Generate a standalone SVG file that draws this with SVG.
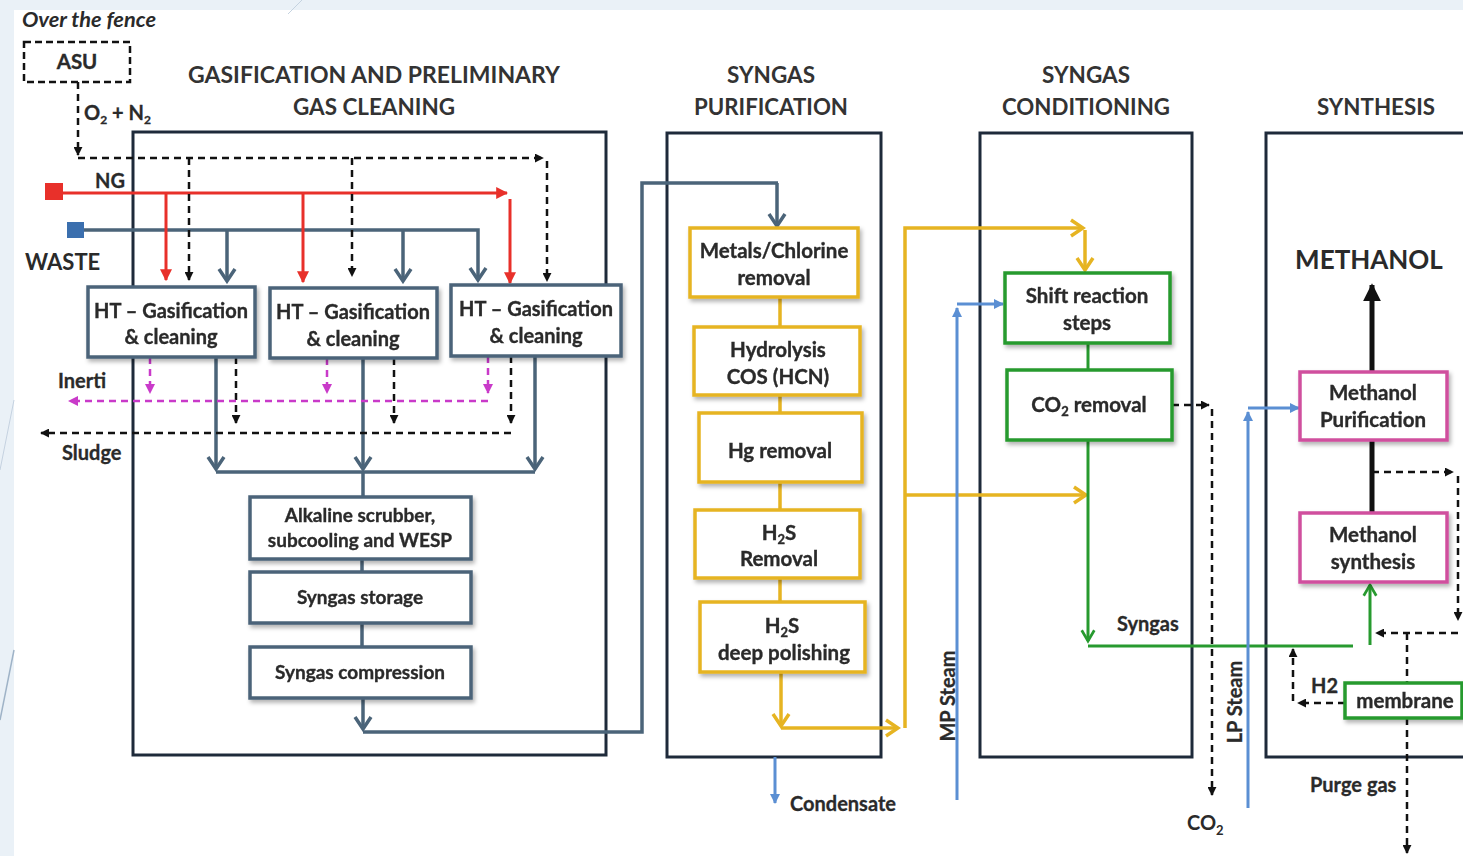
<svg xmlns="http://www.w3.org/2000/svg" width="1463" height="856" viewBox="0 0 1463 856">
<style>
text{font-family:Lato,"Liberation Sans",sans-serif;font-weight:700;fill:#2a2a2a}
.h{font-size:22px;fill:#333;text-anchor:middle}
.t{font-size:20.5px;text-anchor:middle;stroke:#2a2a2a;stroke-width:0.35}
.t20{font-size:20px}
.t19{font-size:19px}
.l{font-size:20px;stroke:#2a2a2a;stroke-width:0.3}
.sec{fill:#fff;stroke:#1e2a3a;stroke-width:3}
.bs{fill:#fff;stroke:#4b6479;stroke-width:3.5}
.bg{fill:#fff;stroke:#e6b422;stroke-width:3.5}
.bgr{fill:#fff;stroke:#279a2f;stroke-width:3.5}
.bm{fill:#fff;stroke:#d0509e;stroke-width:3.5}
.sl{fill:none;stroke:#4b6479;stroke-width:3.5}
.rd{fill:none;stroke:#e8302a;stroke-width:3}
.dk{fill:none;stroke:#111;stroke-width:2.5;stroke-dasharray:7,5}
.mg{fill:none;stroke:#c93ac9;stroke-width:2.5;stroke-dasharray:7,5}
.gd{fill:none;stroke:#e6b422;stroke-width:3.5}
.gr{fill:none;stroke:#279a2f;stroke-width:3}
.bl{fill:none;stroke:#5b8fd3;stroke-width:3}
</style>
<defs>
<filter id="sh" x="-10%" y="-10%" width="130%" height="140%"><feDropShadow dx="2" dy="3" stdDeviation="2" flood-color="#000" flood-opacity="0.3"/></filter>
<marker id="chS" viewBox="0 0 20 20" refX="17" refY="10" markerWidth="20" markerHeight="20" markerUnits="userSpaceOnUse" orient="auto"><path d="M5,2 L17,10 L5,18" fill="none" stroke="#4b6479" stroke-width="3.5"/></marker>
<marker id="chG" viewBox="0 0 20 20" refX="17" refY="10" markerWidth="20" markerHeight="20" markerUnits="userSpaceOnUse" orient="auto"><path d="M5,2 L17,10 L5,18" fill="none" stroke="#e6b422" stroke-width="3.5"/></marker>
<marker id="chGr" viewBox="0 0 20 20" refX="17" refY="10" markerWidth="18" markerHeight="18" markerUnits="userSpaceOnUse" orient="auto"><path d="M5,3 L17,10 L5,17" fill="none" stroke="#279a2f" stroke-width="3"/></marker>
<marker id="tK" viewBox="0 0 10 10" refX="9" refY="5" markerWidth="9" markerHeight="9" markerUnits="userSpaceOnUse" orient="auto"><path d="M0,0 L10,5 L0,10 z" fill="#111"/></marker>
<marker id="tR" viewBox="0 0 10 10" refX="9" refY="5" markerWidth="12" markerHeight="12" markerUnits="userSpaceOnUse" orient="auto"><path d="M0,0 L10,5 L0,10 z" fill="#e8302a"/></marker>
<marker id="tM" viewBox="0 0 10 10" refX="9" refY="5" markerWidth="10" markerHeight="10" markerUnits="userSpaceOnUse" orient="auto"><path d="M0,0 L10,5 L0,10 z" fill="#c93ac9"/></marker>
<marker id="tB" viewBox="0 0 10 10" refX="9" refY="5" markerWidth="10" markerHeight="10" markerUnits="userSpaceOnUse" orient="auto"><path d="M0,0 L10,5 L0,10 z" fill="#5b8fd3"/></marker>
<marker id="tBig" viewBox="0 0 10 10" refX="9" refY="5" markerWidth="18" markerHeight="22" markerUnits="userSpaceOnUse" orient="auto"><path d="M0,0 L10,5 L0,10 z" fill="#111"/></marker>
</defs>

<rect x="0" y="0" width="1463" height="856" fill="#eaf1f7"/>
<rect x="14" y="10" width="1449" height="846" fill="#fff"/>
<line x1="288" y1="14" x2="302" y2="0" stroke="#c5d3e0" stroke-width="1"/>
<line x1="0" y1="720" x2="14" y2="650" stroke="#9fb3c7" stroke-width="1.5"/>
<line x1="0" y1="470" x2="14" y2="400" stroke="#c5d3e0" stroke-width="1"/>

<!-- section containers -->
<g id="sec-gasification"><rect class="sec" x="133" y="132" width="473" height="623"/>
<text class="h" x="374" y="83" textLength="372" lengthAdjust="spacingAndGlyphs">GASIFICATION AND PRELIMINARY</text>
<text class="h" x="374" y="115" textLength="162" lengthAdjust="spacingAndGlyphs">GAS CLEANING</text></g>
<g id="sec-purification"><rect class="sec" x="667" y="133" width="214" height="624"/>
<text class="h" x="771" y="83" textLength="88" lengthAdjust="spacingAndGlyphs">SYNGAS</text>
<text class="h" x="771" y="115" textLength="154" lengthAdjust="spacingAndGlyphs">PURIFICATION</text></g>
<g id="sec-conditioning"><rect class="sec" x="980" y="133" width="212" height="624"/>
<text class="h" x="1086" y="83" textLength="88" lengthAdjust="spacingAndGlyphs">SYNGAS</text>
<text class="h" x="1086" y="115" textLength="168" lengthAdjust="spacingAndGlyphs">CONDITIONING</text></g>
<g id="sec-synthesis"><rect class="sec" x="1266" y="133" width="220" height="624"/>
<text class="h" x="1376" y="115" textLength="118" lengthAdjust="spacingAndGlyphs">SYNTHESIS</text></g>

<!-- connectors -->
<g id="connectors">
<path class="sl" d="M84,230 H478 V280" marker-end="url(#chS)"/>
<path class="sl" d="M227,230 V281" marker-end="url(#chS)"/>
<path class="sl" d="M403,230 V281" marker-end="url(#chS)"/>
<path class="sl" d="M216,357 V469" marker-end="url(#chS)"/>
<path class="sl" d="M363,358 V469" marker-end="url(#chS)"/>
<path class="sl" d="M535,356 V469" marker-end="url(#chS)"/>
<path class="sl" d="M216,472 H535 M363,472 V497 M362,559 V572 M362,623 V647"/>
<path class="sl" d="M363,698 V729" marker-end="url(#chS)"/>
<path class="sl" d="M363,732 H642 V183 H778"/>
<path class="sl" d="M777,183 V226" marker-end="url(#chS)"/>

<path class="rd" d="M63,193 H507" marker-end="url(#tR)"/>
<path class="rd" d="M510,199 V283" marker-end="url(#tR)"/>
<path class="rd" d="M166,193 V280" marker-end="url(#tR)"/>
<path class="rd" d="M303,193 V282" marker-end="url(#tR)"/>

<path class="dk" d="M78,82 V155" marker-end="url(#tK)"/>
<path class="dk" d="M78,158 H543" marker-end="url(#tK)"/>
<path class="dk" d="M547,161 V281" marker-end="url(#tK)"/>
<path class="dk" d="M189,158 V280" marker-end="url(#tK)"/>
<path class="dk" d="M352,158 V276" marker-end="url(#tK)"/>
<path class="dk" d="M236,357 V423" marker-end="url(#tK)"/>
<path class="dk" d="M394,358 V423" marker-end="url(#tK)"/>
<path class="dk" d="M511,356 V423" marker-end="url(#tK)"/>
<path class="dk" d="M511,433 H41" marker-end="url(#tK)"/>

<path class="mg" d="M150,357 V393" marker-end="url(#tM)"/>
<path class="mg" d="M327,358 V393" marker-end="url(#tM)"/>
<path class="mg" d="M488,356 V393" marker-end="url(#tM)"/>
<path class="mg" d="M488,401 H69" marker-end="url(#tM)"/>

<path class="gd" d="M780,297 V327 M780,395 V413 M780,482 V510 M780,578 V602"/>
<path class="gd" d="M781,672 V726" marker-end="url(#chG)"/>
<path class="gd" d="M781,728 H898" marker-end="url(#chG)"/>
<path class="gd" d="M905,728 V228 H1083" marker-end="url(#chG)"/>
<path class="gd" d="M1085,230 V270" marker-end="url(#chG)"/>
<path class="gd" d="M905,495 H1086" marker-end="url(#chG)"/>

<path class="gr" d="M1088,343 V370"/>
<path class="gr" d="M1088,440 V641" marker-end="url(#chGr)"/>
<path class="gr" d="M1088,646 H1353"/>
<path class="gr" d="M1370,645 V585" marker-end="url(#chGr)"/>

<path class="bl" d="M957,800 V308" marker-end="url(#tB)"/>
<path class="bl" d="M957,304 H1003" marker-end="url(#tB)"/>
<path class="bl" d="M1248,808 V412" marker-end="url(#tB)"/>
<path class="bl" d="M1248,408 H1299" marker-end="url(#tB)"/>
<path class="bl" d="M775,757 V803" marker-end="url(#tB)"/>

<path class="dk" d="M1172,405 H1209" marker-end="url(#tK)"/>
<path class="dk" d="M1212,409 V795" marker-end="url(#tK)"/>
<path class="dk" d="M1372,472 H1453" marker-end="url(#tK)"/>
<path class="dk" d="M1458,476 V620" marker-end="url(#tK)"/>
<path class="dk" d="M1458,633 H1376" marker-end="url(#tK)"/>
<path class="dk" d="M1407,633 V682"/>
<path class="dk" d="M1407,718 V853" marker-end="url(#tK)"/>
<path class="dk" d="M1345,703 H1298" marker-end="url(#tK)"/>
<path class="dk" d="M1293,701 V649" marker-end="url(#tK)"/>

<path d="M1372,440 V512" stroke="#111" stroke-width="5" fill="none"/>
<path d="M1372,371 V285" stroke="#111" stroke-width="5" fill="none" marker-end="url(#tBig)"/>
</g>

<!-- nodes -->
<g id="asu"><rect x="24" y="42" width="106" height="40" fill="#fff" stroke="#111" stroke-width="2.5" stroke-dasharray="7,4"/>
<text class="t" x="77" y="69">ASU</text></g>
<g id="ng-source"><rect x="45" y="183" width="18" height="17" fill="#e8302a"/></g>
<g id="waste-source"><rect x="67" y="222" width="17" height="16" fill="#3b6fae"/></g>

<g id="ht1" filter="url(#sh)"><rect class="bs" x="88" y="287" width="167" height="70"/>
<text class="t t20" x="171" y="318">HT – Gasification</text><text class="t t20" x="171" y="344">&amp; cleaning</text></g>
<g id="ht2" filter="url(#sh)"><rect class="bs" x="270" y="288" width="167" height="70"/>
<text class="t t20" x="353" y="319">HT – Gasification</text><text class="t t20" x="353" y="346">&amp; cleaning</text></g>
<g id="ht3" filter="url(#sh)"><rect class="bs" x="451" y="285" width="170" height="71"/>
<text class="t t20" x="536" y="316">HT – Gasification</text><text class="t t20" x="536" y="343">&amp; cleaning</text></g>

<g id="alkaline" filter="url(#sh)"><rect class="bs" x="250" y="497" width="221" height="62"/>
<text class="t t19" x="360" y="522">Alkaline scrubber,</text><text class="t t19" x="360" y="547">subcooling and  WESP</text></g>
<g id="storage" filter="url(#sh)"><rect class="bs" x="250" y="572" width="221" height="51"/>
<text class="t t19" x="360" y="604">Syngas storage</text></g>
<g id="compression" filter="url(#sh)"><rect class="bs" x="250" y="647" width="221" height="51"/>
<text class="t t19" x="360" y="679">Syngas compression</text></g>

<g id="metals" filter="url(#sh)"><rect class="bg" x="690" y="228" width="168" height="69"/>
<text class="t" x="774" y="258">Metals/Chlorine</text><text class="t" x="774" y="285">removal</text></g>
<g id="hydrolysis" filter="url(#sh)"><rect class="bg" x="694" y="327" width="166" height="68"/>
<text class="t" x="778" y="357">Hydrolysis</text><text class="t" x="778" y="384">COS (HCN)</text></g>
<g id="hg" filter="url(#sh)"><rect class="bg" x="699" y="413" width="163" height="69"/>
<text class="t" x="780" y="458">Hg removal</text></g>
<g id="h2s-removal" filter="url(#sh)"><rect class="bg" x="695" y="510" width="165" height="68"/>
<text class="t" x="779" y="540">H<tspan font-size="13" dy="4">2</tspan><tspan dy="-4">S</tspan></text><text class="t" x="779" y="566">Removal</text></g>
<g id="h2s-polishing" filter="url(#sh)"><rect class="bg" x="700" y="602" width="165" height="70"/>
<text class="t" x="782" y="633">H<tspan font-size="13" dy="4">2</tspan><tspan dy="-4">S</tspan></text><text class="t" x="784" y="660">deep polishing</text></g>

<g id="shift" filter="url(#sh)"><rect class="bgr" x="1005" y="273" width="165" height="70"/>
<text class="t" x="1087" y="303">Shift reaction</text><text class="t" x="1087" y="330">steps</text></g>
<g id="co2-removal" filter="url(#sh)"><rect class="bgr" x="1007" y="370" width="165" height="70"/>
<text class="t" x="1089" y="412">CO<tspan font-size="13" dy="4">2</tspan><tspan dy="-4"> removal</tspan></text></g>

<g id="meoh-purification" filter="url(#sh)"><rect class="bm" x="1300" y="372" width="147" height="68"/>
<text class="t" x="1373" y="400">Methanol</text><text class="t" x="1373" y="427">Purification</text></g>
<g id="meoh-synthesis" filter="url(#sh)"><rect class="bm" x="1300" y="513" width="147" height="69"/>
<text class="t" x="1373" y="542">Methanol</text><text class="t" x="1373" y="569">synthesis</text></g>
<g id="membrane" filter="url(#sh)"><rect class="bgr" x="1345" y="683" width="117" height="35"/>
<text class="t" x="1405" y="708">membrane</text></g>

<!-- labels -->
<g id="labels">
<text x="22" y="27" font-size="20" font-style="italic" fill="#3a3a3a" textLength="134" lengthAdjust="spacingAndGlyphs">Over the fence</text>
<text class="l" x="84" y="120">O<tspan font-size="12" dy="4">2</tspan><tspan dy="-4"> + N</tspan><tspan font-size="12" dy="4">2</tspan></text>
<text class="l" x="95" y="188">NG</text>
<text x="25" y="270" font-size="22">WASTE</text>
<text class="l" x="58" y="388">Inerti</text>
<text class="l" x="62" y="460">Sludge</text>
<text class="l" x="790" y="811">Condensate</text>
<text class="l" x="1117" y="631">Syngas</text>
<text class="l" x="955" y="696" text-anchor="middle" transform="rotate(-90 955 696)">MP Steam</text>
<text class="l" x="1242" y="702" text-anchor="middle" transform="rotate(-90 1242 702)">LP Steam</text>
<text x="1187" y="830" font-size="20">CO<tspan font-size="13" dy="5">2</tspan></text>
<text class="l" x="1311" y="693">H2</text>
<text class="l" x="1310" y="792">Purge gas</text>
<text x="1369" y="269" font-size="26" text-anchor="middle" fill="#1a1a1a">METHANOL</text>
</g>
</svg>
